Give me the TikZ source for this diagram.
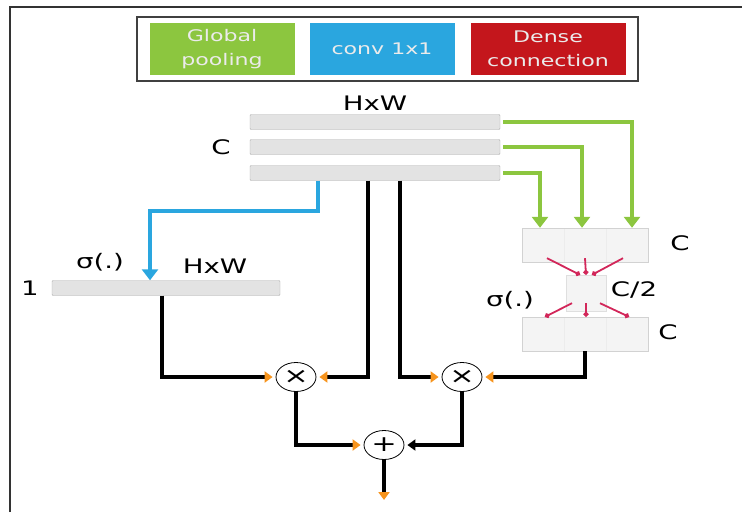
\documentclass[tikz,border=0pt]{standalone}
\usepackage{fontspec}
\setmainfont{DejaVu Sans}[FakeStretch=1.38]
\usetikzlibrary{arrows.meta, positioning, fit, shapes.geometric}
\definecolor{poolGreen}{HTML}{8CC63F}
\definecolor{convBlue}{HTML}{2AA6DF}
\definecolor{denseRed}{HTML}{C4161C}
\definecolor{linkRed}{HTML}{D2275A}
\definecolor{tipOrange}{HTML}{F7941D}
\definecolor{barGray}{HTML}{E3E3E3}

\begin{document}
\begin{tikzpicture}[x=1pt, y=-1pt,
    legbox/.style={rectangle, minimum width=145pt, minimum height=52pt, inner sep=1pt,
                   align=center, text=white!92!black, font=\fontsize{16}{24}\selectfont},
    bar/.style={rectangle, draw=gray!65, fill=barGray, minimum height=15pt,
                inner sep=0pt, rounded corners=1pt},
    cell/.style={rectangle, draw=gray!15, fill=gray!9, minimum width=42pt,
                 minimum height=34pt, inner sep=0pt},
    lbl/.style={inner sep=1pt, font=\fontsize{20}{22}\selectfont},
    op/.style={ellipse, draw, thick, minimum width=40pt, minimum height=29pt, inner sep=0pt,
               font=\fontsize{22}{22}\selectfont},
    pool/.style={line width=3.6pt, poolGreen, shorten <=3pt,
                 -{Triangle[length=11pt, width=16pt]}},
    conv/.style={line width=3.6pt, convBlue, -{Triangle[length=11pt, width=16pt]}},
    dense/.style={line width=1.8pt, linkRed, -{Circle[length=5pt]}},
    wire/.style={line width=3.2pt, shorten >=3pt,
                 -{Triangle[color=tipOrange, length=8pt, width=11pt]}},
    wireblk/.style={line width=3.2pt, shorten >=3pt,
                    -{Triangle[length=8pt, width=11pt]}},
  ]
    \useasboundingbox (0,0) rectangle (742,512);
    \draw[line width=1.2pt, black!80] (10,512) -- (10,7) -- (742,7);

    % legend
    \node[legbox, fill=poolGreen] (lg) at (222,49) {Global\\pooling};
    \node[legbox, fill=convBlue] (lb) at (382,49) {conv 1x1};
    \node[legbox, fill=denseRed, minimum width=155pt] (lr) at (548,49) {Dense\\connection};
    \node[draw=gray!50!black, line width=1.8pt, inner xsep=12pt, inner ysep=6pt,
          fit=(lg)(lb)(lr)] (legend) {};

    % feature map
    \node[bar, minimum width=250pt] (bar1) at (375,122) {};
    \node[bar, minimum width=250pt] (bar2) at (375,147) {};
    \node[bar, minimum width=250pt] (bar3) at (375,173) {};
    \node[lbl, above=3pt of bar1] (hw1) {HxW};
    \node[lbl, left=18pt of bar2] (c0) {C};

    % spatial branch
    \node[bar, minimum width=228pt] (onebar) at (166,288) {};
    \node[lbl, left=12pt of onebar] (one) {1};
    \node[lbl] (sig1) at (100,262) {σ(.)};
    \node[lbl] (hw2) at (215,266) {HxW};

    % channel branch
    \node[cell] (ua) at (543,245) {};
    \node[cell] (ub) at (585,245) {};
    \node[cell] (uc) at (627,245) {};
    \node[draw=gray!35, inner sep=0pt, fit=(ua)(uc)] (upblk) {};
    \node[cell, draw=gray!25, minimum width=40pt, minimum height=36pt] (mid) at (586,293) {};
    \node[cell] (la) at (543,334) {};
    \node[cell] (lb2) at (585,334) {};
    \node[cell] (lc) at (627,334) {};
    \node[draw=gray!35, inner sep=0pt, fit=(la)(lc)] (lowblk) {};
    \node[lbl] (cu) at (680,243) {C};
    \node[lbl] (ch) at (634,290) {C/2};
    \node[lbl] (cl) at (668,332) {C};
    \node[lbl] (sig2) at (510,300) {σ(.)};

    % operators
    \node[op] (m1) at (296,377) {×};
    \node[op] (m2) at (462,377) {×};
    \node[op] (sum) at (384,445) {+};
    \coordinate (out) at (384,503);

    % pooling
    \draw[pool] (bar1.east) -| ([xshift=5pt]uc.north);
    \draw[pool] (bar2.east) -| ([xshift=-3pt]ub.north);
    \draw[pool] (bar3.east) -| ([xshift=-3pt]ua.north);

    % conv 1x1
    \draw[conv] ([xshift=-57pt]bar3.south) -- ++(0,30) -| ([xshift=-16pt]onebar.north);

    % dense connection
    \draw[dense] ([xshift=4pt, yshift=4pt]ua.south) -- ([xshift=-6pt]mid.north);
    \draw[dense] ([yshift=4pt]ub.south) -- (mid.north);
    \draw[dense] ([xshift=-4pt, yshift=4pt]uc.south) -- ([xshift=6pt]mid.north);
    \draw[dense] ([xshift=-14pt, yshift=8pt]mid.south) -- ([xshift=2pt]la.north);
    \draw[dense] ([yshift=8pt]mid.south) -- ([xshift=1pt]lb2.north);
    \draw[dense] ([xshift=14pt, yshift=8pt]mid.south) -- ([xshift=2pt]lc.north);

    % fusion
    \draw[wire] ([xshift=-4pt]onebar.south) |- (m1.west);
    \draw[wire] ([xshift=-7pt]bar3.south) |- (m1.east);
    \draw[wire] ([xshift=25pt]bar3.south) |- (m2.west);
    \draw[wire] (lowblk.south) |- (m2.east);
    \draw[wire] (m1.south) |- (sum.west);
    \draw[wireblk] (m2.south) |- (sum.east);
    \draw[wire] (sum.south) -- (out);
  \end{tikzpicture}
\end{document}
